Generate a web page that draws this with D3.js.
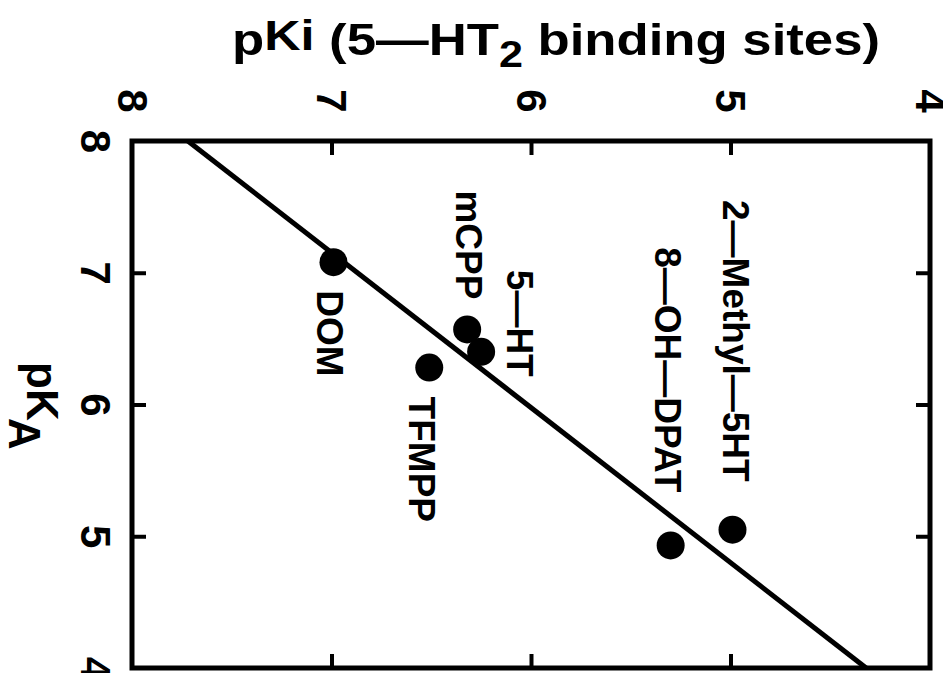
<!DOCTYPE html>
<html lang="en">
<head>
  <meta charset="UTF-8">
  <title>pKA vs pKi (5-HT2 binding sites)</title>
  <script src="https://d3js.org/d3.v7.min.js"></script>
  <style>
    body {
      margin: 0;
      background: #ffffff;
    }
    svg {
      display: block;
      font-family: 'Liberation Sans', Arial, sans-serif;
      font-weight: bold;
    }
  </style>
</head>
<body>
  <svg id="chart" width="943" height="673"></svg>

  <script>
    // values
    const compounds = ["DOM", "mCPP", "5\u2014HT", "TFMPP", "2\u2014Methyl\u20145HT", "8\u2014OH\u2014DPAT"];
    const pKiValues = [6.99, 6.32, 6.25, 6.51, 4.99, 5.30];
    const pKAValues = [7.08, 6.57, 6.40, 6.28, 5.05, 4.93];
    const pKiTicks = [8, 7, 6, 5, 4];
    const pKATicks = [8, 7, 6, 5, 4];
    // regression line end points (pKi at pKA = 8 and pKA = 4)
    const fitPKi = [7.72, 4.32];
    const fitPKA = [8, 4];

    // label placement relative to each dot (pixels, text is turned 90deg)
    const labelPlace = {
      "DOM":            { dx: -16, dy: 28,  anchor: "start" },
      "mCPP":           { dx: -11, dy: -30, anchor: "end" },
      "5\u2014HT":           { dx: 26,  dy: -82, anchor: "start" },
      "TFMPP":          { dx: -20, dy: 29,  anchor: "start" },
      "2\u2014Methyl\u20145HT":  { dx: -9,  dy: -48, anchor: "end" },
      "8\u2014OH\u2014DPAT":     { dx: -16, dy: -53, anchor: "end" }
    };

    const box = { left: 132, top: 141, right: 930, bottom: 668 };
    const tickLen = 14;

    const svg = d3.select("#chart");

    const x = d3.scaleLinear().domain([8, 4]).range([box.left, box.right]);
    const y = d3.scaleLinear().domain([8, 4]).range([box.top, box.bottom]);

    // axes, ticks pointing inward
    function styleAxis(g) {
      g.select(".domain").remove();
      g.selectAll(".tick line").attr("stroke", "#000").attr("stroke-width", 4);
    }

    const topAxis = svg.append("g")
      .attr("transform", `translate(0,${box.top})`)
      .call(d3.axisTop(x).tickValues(pKiTicks).tickSizeInner(-tickLen).tickSizeOuter(0).tickFormat(d3.format("d")))
      .call(styleAxis);
    topAxis.selectAll(".tick text")
      .attr("x", null).attr("y", null).attr("dy", null)
      .attr("text-anchor", "middle")
      .attr("font-size", 42)
      .attr("font-family", "'Liberation Sans', Arial, sans-serif")
      .attr("font-weight", "bold")
      .attr("fill", "#000")
      .attr("transform", "translate(-15,-40) rotate(90)");
    topAxis.selectAll(".tick").filter(d => d === 8 || d === 4).select("line").remove();

    const leftAxis = svg.append("g")
      .attr("transform", `translate(${box.left},0)`)
      .call(d3.axisLeft(y).tickValues(pKATicks).tickSizeInner(-tickLen).tickSizeOuter(0).tickFormat(d3.format("d")))
      .call(styleAxis);
    leftAxis.selectAll(".tick text")
      .attr("x", null).attr("y", null).attr("dy", null)
      .attr("text-anchor", "middle")
      .attr("font-size", 42)
      .attr("font-family", "'Liberation Sans', Arial, sans-serif")
      .attr("font-weight", "bold")
      .attr("fill", "#000")
      .attr("transform", "translate(-51,0) rotate(90)");
    leftAxis.selectAll(".tick").filter(d => d === 8 || d === 4).select("line").remove();

    svg.append("g")
      .attr("transform", `translate(${box.right},0)`)
      .call(d3.axisRight(y).tickValues(pKATicks.slice(1, -1)).tickSizeInner(-tickLen).tickSizeOuter(0).tickFormat(""))
      .call(styleAxis);

    svg.append("g")
      .attr("transform", `translate(0,${box.bottom})`)
      .call(d3.axisBottom(x).tickValues(pKiTicks.slice(1, -1)).tickSizeInner(-tickLen).tickSizeOuter(0).tickFormat(""))
      .call(styleAxis);

    // frame
    svg.append("rect")
      .attr("x", box.left).attr("y", box.top)
      .attr("width", box.right - box.left)
      .attr("height", box.bottom - box.top)
      .attr("fill", "none")
      .attr("stroke", "#000")
      .attr("stroke-width", 5);

    // regression line
    const fit = fitPKi.map((v, i) => ({ pKi: v, pKA: fitPKA[i] }));
    svg.append("path")
      .datum(fit)
      .attr("fill", "none")
      .attr("stroke", "#000")
      .attr("stroke-width", 5)
      .attr("d", d3.line().x(d => x(d.pKi)).y(d => y(d.pKA)));

    // points
    const points = compounds.map((name, i) => ({ name, pKi: pKiValues[i], pKA: pKAValues[i] }));

    svg.append("g")
      .selectAll("circle")
      .data(points)
      .join("circle")
      .attr("cx", d => x(d.pKi))
      .attr("cy", d => y(d.pKA))
      .attr("r", 14)
      .attr("fill", "#000");

    svg.append("g")
      .selectAll("text")
      .data(points)
      .join("text")
      .attr("transform", d => {
        const p = labelPlace[d.name];
        return `translate(${x(d.pKi) + p.dx},${y(d.pKA) + p.dy}) rotate(90)`;
      })
      .attr("text-anchor", d => labelPlace[d.name].anchor)
      .attr("font-size", 37)
      .attr("fill", "#000")
      .text(d => d.name);

    // axis titles
    const title = svg.append("text")
      .attr("x", 232)
      .attr("y", 55)
      .attr("font-size", 44)
      .attr("fill", "#000")
      .attr("textLength", 648)
      .attr("lengthAdjust", "spacingAndGlyphs");
    title.append("tspan").text("p");
    title.append("tspan").attr("dy", -5).attr("font-size", 42).text("Ki");
    title.append("tspan").attr("dy", 5).text(" (5\u2014HT");
    title.append("tspan").attr("dy", 12).attr("font-size", 36).text("2");
    title.append("tspan").attr("dy", -12).text(" binding sites)");

    const yTitle = svg.append("text")
      .attr("transform", "translate(27,362) rotate(90)")
      .attr("font-size", 44)
      .attr("fill", "#000");
    yTitle.append("tspan").text("pK");
    yTitle.append("tspan").attr("dy", 18).attr("x", 56).attr("font-size", 44).text("A");
  </script>
</body>
</html>
